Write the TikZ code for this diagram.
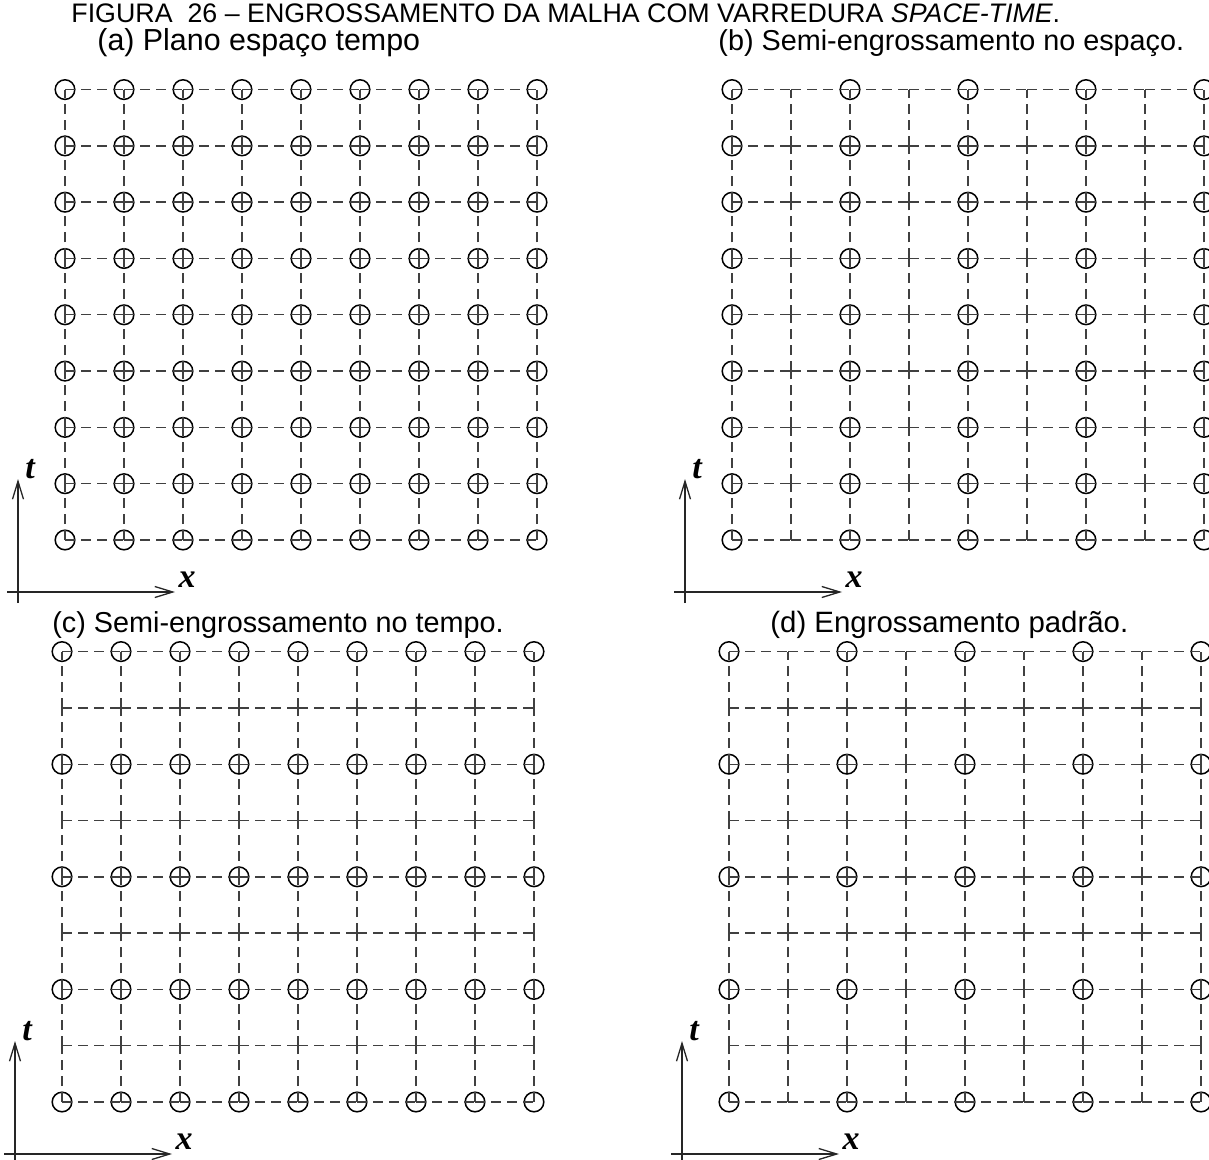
\documentclass[tikz,border=0pt]{standalone}
\usepackage{fontspec}
\setmainfont{Liberation Sans}
\newfontfamily\axisfont{Liberation Serif}
\usepackage{tikz}
\usetikzlibrary{arrows.meta}

\begin{document}
\begin{tikzpicture}[
    x=0.5pt, y=-0.5pt,
    gridline/.style={draw=black!75, line width=0.7pt, dash pattern=on 5pt off 3pt},
    meshpt/.style={circle, draw=black, line width=0.75pt, minimum size=9.8pt, inner sep=0pt},
    axisline/.style={draw=black!85, line width=0.65pt, -{Straight Barb[length=9pt, width=5.5pt]}},
    title/.style={anchor=base west, inner sep=0pt, font=\fontsize{13.4}{16}\selectfont},
    caption/.style={anchor=base west, inner sep=0pt, font=\fontsize{14.4}{17}\selectfont},
    axislabel/.style={inner sep=0pt, font=\axisfont\fontsize{17}{19}\selectfont\bfseries\itshape}
]
\useasboundingbox (0,0) rectangle (1209,1160);
\clip (0,0) rectangle (1209,1160);

% Title and panel captions
\node[title] (title) at (71,23) {FIGURA\ \ 26 -- ENGROSSAMENTO DA MALHA COM VARREDURA \textit{SPACE-TIME}.};
\node[caption, font=\fontsize{15.2}{17}\selectfont] (cap-a) at (97,51) {(a) Plano espaço tempo};
\node[caption] (cap-b) at (718,51) {(b) Semi-engrossamento no espaço.};
\node[caption] (cap-c) at (52,632) {(c) Semi-engrossamento no tempo.};
\node[caption, font=\fontsize{14.7}{17}\selectfont] (cap-d) at (770,632) {(d) Engrossamento padrão.};

% panels: name / origin (bottom left point) / coarsening step in x and t
\foreach \p/\ox/\oy/\sx/\sy in {a/65/540/1/1, b/732/540/2/1, c/62/1102/1/2, d/729/1102/2/2} {
  % mesh points
  \foreach \i in {0,...,8} {
    \foreach \j in {0,...,8} {
      \pgfmathtruncatemacro\keep{(mod(\i,\sx)==0)&&(mod(\j,\sy)==0)}
      \ifnum\keep=1
        \node[meshpt] (\p-\i-\j) at (\ox+\i*59, \oy-\j*56.3) {};
      \else
        \coordinate (\p-\i-\j) at (\ox+\i*59, \oy-\j*56.3);
      \fi
    }
  }
  % mesh lines
  \foreach \i [count=\k] in {0,...,7} {
    \foreach \j in {0,...,8} {
      \draw[gridline] (\p-\i-\j.center) -- (\p-\k-\j.center);
      \draw[gridline] (\p-\j-\i.center) -- (\p-\j-\k.center);
    }
  }
  % axes
  \coordinate (\p-tb) at (\ox-47, \oy+63);
  \coordinate (\p-tt) at (\ox-47, \oy-61);
  \coordinate (\p-xl) at (\ox-58, \oy+52);
  \coordinate (\p-xr) at (\ox+110, \oy+52);
  \draw[axisline] (\p-tb) -- (\p-tt);
  \draw[axisline] (\p-xl) -- (\p-xr);
  \node[axislabel] (\p-t) at (\ox-35, \oy-71) {t};
  \node[axislabel] (\p-x) at (\ox+122, \oy+40) {x};
}

\end{tikzpicture}
\end{document}
